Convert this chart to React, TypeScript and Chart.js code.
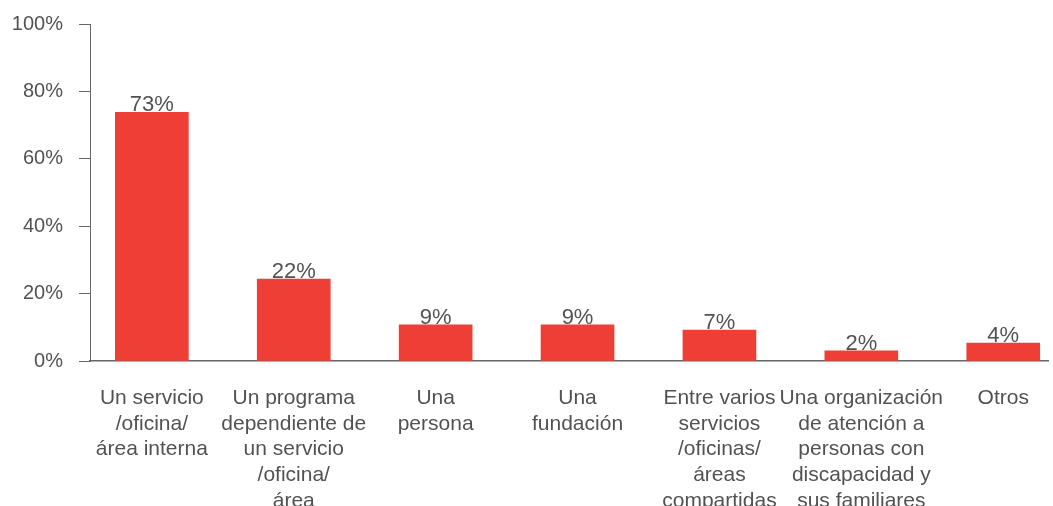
import React, { useEffect, useRef } from 'react';
import { Chart, registerables } from 'chart.js';

Chart.register(...registerables);

const categories: string[][] = [
  ['Un servicio', '/oficina/', 'área interna'],
  ['Un programa', 'dependiente de', 'un servicio', '/oficina/', 'área'],
  ['Una', 'persona'],
  ['Una', 'fundación'],
  ['Entre varios', 'servicios', '/oficinas/', 'áreas', 'compartidas'],
  ['Una organización', 'de atención a', 'personas con', 'discapacidad y', 'sus familiares'],
  ['Otros'],
];

const values: number[] = [73.8, 24.3, 10.7, 10.7, 9.2, 3.0, 5.3];
const valueLabels: string[] = ['73%', '22%', '9%', '9%', '7%', '2%', '4%'];

const FONT = "'Liberation Sans', Arial, Helvetica, sans-serif";
const TEXT = '#525252';
const AXIS = '#666666';
const BAR = '#EE3E35';

const valueLabelPlugin = {
  id: 'valueLabels',
  afterDatasetsDraw(chart: any) {
    const ctx = chart.ctx;
    const meta = chart.getDatasetMeta(0);
    ctx.save();
    ctx.font = `22px ${FONT}`;
    ctx.fillStyle = TEXT;
    ctx.textAlign = 'center';
    ctx.textBaseline = 'alphabetic';
    meta.data.forEach((bar: any, i: number) => {
      ctx.fillText(valueLabels[i], bar.x, bar.y - 1);
    });
    ctx.restore();
  },
};

export default function App() {
  const ref = useRef<HTMLCanvasElement | null>(null);

  useEffect(() => {
    if (!ref.current) return;
    const chart = new Chart(ref.current, {
      type: 'bar',
      data: {
        datasets: [
          {
            data: values.map((v, i) => ({ x: i, y: v })),
            backgroundColor: BAR,
            borderWidth: 0,
            barThickness: 73,
          },
        ],
      },
      options: {
        animation: false,
        responsive: true,
        maintainAspectRatio: false,
        devicePixelRatio: 1,
        layout: { padding: { top: 24, right: 2, left: 0, bottom: 0 } },
        plugins: {
          legend: { display: false },
          tooltip: { enabled: false },
        },
        scales: {
          x: {
            type: 'linear',
            offset: false,
            min: -0.4358,
            max: 6.32,
            afterBuildTicks: (s: any) => {
              s.ticks = categories.map((_, i) => ({ value: i }));
            },
            afterFit: (s: any) => {
              s.height = 145;
            },
            ticks: {
              autoSkip: false,
              maxRotation: 0,
              minRotation: 0,
              padding: 24,
              color: TEXT,
              font: { family: FONT, size: 21, lineHeight: 1.23 },
              callback: (_v: any, index: number) => categories[index] ?? '',
            },
            grid: { display: true, offset: false, drawOnChartArea: false, drawTicks: false },
            border: { display: true, color: AXIS, width: 1.5 },
          },
          y: {
            min: 0,
            max: 100,
            afterFit: (s: any) => {
              s.width = 90;
              s.paddingTop = 0;
              s.paddingBottom = 0;
            },
            ticks: {
              stepSize: 20,
              padding: 16,
              color: TEXT,
              font: { family: FONT, size: 20 },
              callback: (v: any) => `${v}%`,
            },
            grid: {
              drawOnChartArea: false,
              drawTicks: true,
              tickLength: 11,
              tickColor: AXIS,
              lineWidth: 1,
            },
            border: { display: true, color: AXIS, width: 1 },
          },
        },
      },
      plugins: [valueLabelPlugin],
    } as any);
    return () => chart.destroy();
  }, []);

  return (
    <div style={{ position: 'fixed', left: 0, top: 0, width: 1053, height: 506, background: '#fff' }}>
      <canvas ref={ref} />
    </div>
  );
}
